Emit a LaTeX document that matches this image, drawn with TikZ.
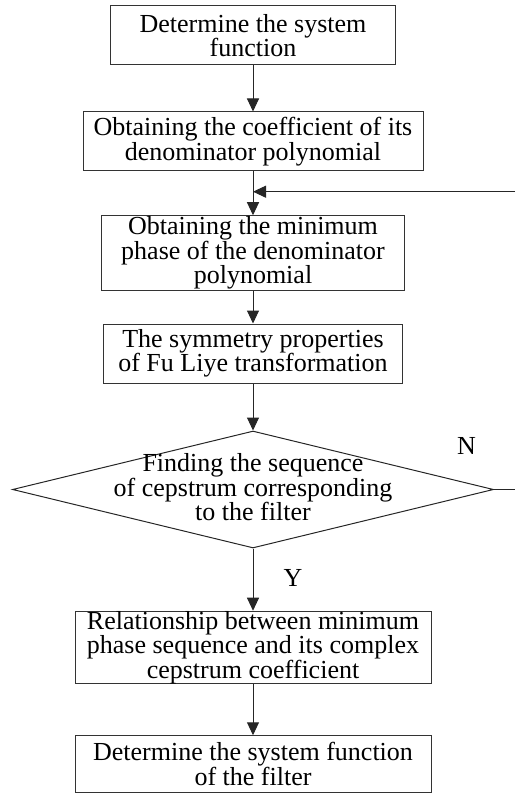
\documentclass[tikz,border=0pt]{standalone}
\usepackage{fontspec}
\setmainfont{Liberation Serif}
\usetikzlibrary{arrows.meta,shapes.geometric}
\begin{document}
\begin{tikzpicture}[x=1pt,y=-1pt,
  txt/.style={font=\fontsize{26pt}{24.5pt}\selectfont, align=center, inner sep=0pt},
  procbox/.style={txt, draw=black!80, line width=1pt},
  conn/.style={draw=black!85, line width=1pt},
  arr/.style={conn, -{Triangle[length=13pt,width=12pt]}}]
\useasboundingbox (0,0) rectangle (515,794);
\node[procbox, minimum width=285pt, minimum height=59pt] (b1) at (253,35.5) {Determine the system\\function};
\node[procbox, minimum width=340pt, minimum height=59pt] (b2) at (253,141.5) {Obtaining the coefficient of its\\denominator polynomial};
\node[procbox, minimum width=303.6pt, minimum height=74.3pt] (b3) at (253,252.9) {Obtaining the minimum\\phase of the denominator\\polynomial};
\node[procbox, minimum width=298.4pt, minimum height=59pt] (b4) at (253,353.5) {The symmetry properties\\of Fu Liye transformation};
\node[diamond, draw=black!85, line width=1pt, inner sep=0pt, minimum width=481pt, minimum height=117pt] (dia) at (253,489.5) {};
\node[txt] (dtext) at (253,487.5) {Finding the sequence\\of cepstrum corresponding\\to the filter};
\node[procbox, minimum width=356pt, minimum height=71pt] (b5) at (253,647.5) {Relationship between minimum\\phase sequence and its complex\\cepstrum coefficient};
\node[procbox, minimum width=356pt, minimum height=56.3pt] (b6) at (253,763.9) {Determine the system function\\of the filter};
\node[txt] (nlab) at (466.5,445.7) {N};
\node[txt] (ylab) at (293,577.5) {Y};
\coordinate (fbr) at (515,191.7);
\coordinate (nr) at (515,489.5);
\draw[arr] (b1.south) -- (b2.north);
\draw[arr] (b2.south) -- (b3.north);
\draw[arr] (fbr) -- (fbr -| b2.south);
\draw[arr] (b3.south) -- (b4.north);
\draw[arr] (b4.south) -- (dia.north);
\draw[conn] (dia.east) -- (nr);
\draw[arr] (dia.south) -- (b5.north);
\draw[arr] (b5.south) -- (b6.north);
\end{tikzpicture}
\end{document}
